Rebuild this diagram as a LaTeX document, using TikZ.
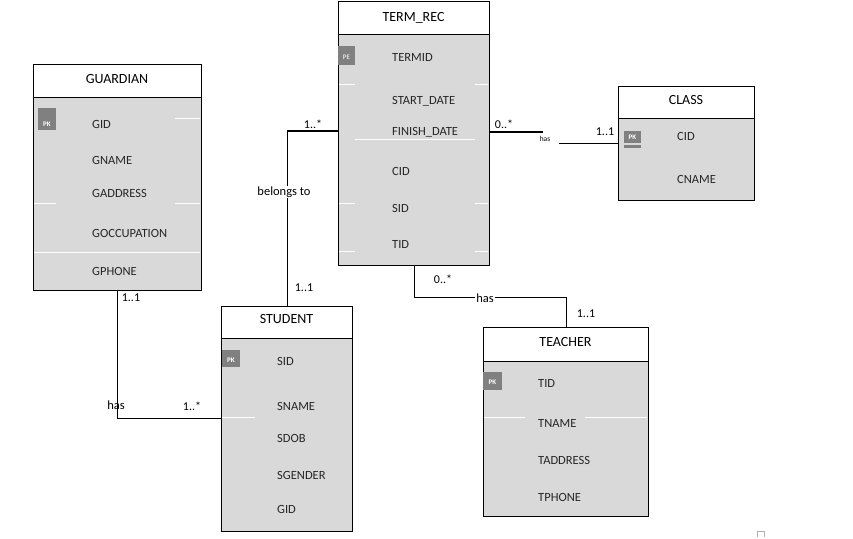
\documentclass[tikz,border=0pt]{standalone}
\usepackage{fontspec}
\setmainfont{Carlito}
\begin{document}
\begin{tikzpicture}[x=1pt,y=-1pt,
  entity/.style={draw=black,line width=1pt,fill=boxgray,anchor=north west,inner sep=0pt},
  hdr/.style={fill=white,draw=black,line width=1pt,anchor=north west,inner sep=0pt},
  title/.style={font=\fontsize{14}{16}\selectfont,inner sep=0pt},
  field/.style={font=\fontsize{12.5}{14}\selectfont,anchor=west,inner sep=0pt,text=black!85},
  pk/.style={fill=pkgray,anchor=north west,inner sep=0pt},
  pktext/.style={font=\fontsize{7}{8}\selectfont\bfseries,text=white,inner sep=0pt},
  sep/.style={draw=white,line width=1pt},
  conn/.style={draw=black,line width=0.9pt},
  thickconn/.style={draw=black,line width=2.8pt},
  card/.style={font=\fontsize{12}{14}\selectfont,inner sep=1pt},
  rel/.style={font=\fontsize{12.5}{14}\selectfont,fill=white,inner sep=1pt}]
\definecolor{boxgray}{HTML}{D9D9D9}
\definecolor{pkgray}{HTML}{808080}
\path[use as bounding box,fill=white] (0,0) rectangle (853,538);

% GUARDIAN
\node[entity,minimum width=168pt,minimum height=226pt] (guardian) at (33,64) {};
\node[hdr,minimum width=168pt,minimum height=33pt] (guardianh) at (33,64) {};
\node[title] (guardiant) at (117,79) {GUARDIAN};
\node[pk,minimum width=18pt,minimum height=22pt] (gpk) at (38,108) {};
\node[pktext] (gpkt) at (47,124) {PK};
\draw[sep] (175,118) -- (200,118);
\draw[sep] (34,203) -- (56,203);
\draw[sep] (175,203) -- (200,203);
\draw[sep] (34,252) -- (200,252);
\node[field] (g1) at (92,124) {GID};
\node[field] (g2) at (92,160) {GNAME};
\node[field] (g3) at (92,193) {GADDRESS};
\node[field] (g4) at (92,233) {GOCCUPATION};
\node[field] (g5) at (92,271) {GPHONE};

% TERM_REC
\node[entity,minimum width=151pt,minimum height=264pt] (termrec) at (338,1) {};
\node[hdr,minimum width=151pt,minimum height=33pt] (termrech) at (338,1) {};
\node[title] (termrect) at (413.5,18) {TERM\_REC};
\node[pk,minimum width=17pt,minimum height=19pt] (tpk) at (338,46) {};
\node[pktext,text=white!75!gray] (tpkt) at (346.5,57) {PE};
\draw[sep] (339,84) -- (355,84);
\draw[sep] (475,84) -- (488,84);
\draw[sep] (355,139) -- (475,139);
\draw[sep] (339,203) -- (355,203);
\draw[sep] (475,203) -- (488,203);
\draw[sep] (339,251) -- (355,251);
\draw[sep] (475,251) -- (488,251);
\node[field] (t1) at (392,57) {TERMID};
\node[field] (t2) at (392,101) {START\_DATE};
\node[field] (t3) at (392,132) {FINISH\_DATE};
\node[field] (t4) at (392,171) {CID};
\node[field] (t5) at (392,208) {SID};
\node[field] (t6) at (392,244) {TID};

% CLASS
\node[entity,minimum width=136pt,minimum height=114pt] (class) at (618,86) {};
\node[hdr,minimum width=136pt,minimum height=32pt] (classh) at (618,86) {};
\node[title] (classt) at (686,100) {CLASS};
\node[pk,minimum width=17pt,minimum height=12pt] (cpk) at (624,131) {};
\node[pktext] (cpkt) at (632.5,137) {PK};
\fill[pkgray] (624,145) rectangle (641,148);
\node[field] (c1) at (677,136) {CID};
\node[field] (c2) at (677,179) {CNAME};

% STUDENT
\node[entity,minimum width=131pt,minimum height=225pt] (student) at (221,306) {};
\node[hdr,minimum width=131pt,minimum height=32pt] (studenth) at (221,306) {};
\node[title] (studentt) at (286.5,319) {STUDENT};
\node[pk,minimum width=18pt,minimum height=17pt] (spk) at (222,350) {};
\node[pktext] (spkt) at (231,360) {PK};
\draw[sep] (222,417) -- (255,417);
\node[field] (s1) at (277,361) {SID};
\node[field] (s2) at (277,406) {SNAME};
\node[field] (s3) at (277,438) {SDOB};
\node[field] (s4) at (277,475) {SGENDER};
\node[field] (s5) at (277,509) {GID};

% TEACHER
\node[entity,minimum width=165pt,minimum height=189pt] (teacher) at (483,327) {};
\node[hdr,minimum width=165pt,minimum height=34pt] (teacherh) at (483,327) {};
\node[title] (teachert) at (565.5,342) {TEACHER};
\node[pk,minimum width=19pt,minimum height=18pt] (tepk) at (483,372) {};
\node[pktext] (tepkt) at (492.5,382) {PK};
\draw[sep] (484,417) -- (525,417);
\draw[sep] (585,417) -- (647,417);
\node[field] (te1) at (538,383) {TID};
\node[field] (te2) at (538,423) {TNAME};
\node[field] (te3) at (538,460) {TADDRESS};
\node[field] (te4) at (538,497) {TPHONE};

% GUARDIAN -- STUDENT
\draw[conn] (guardian.south) |- (student.west |- 0,418);
\node[card] (l1) at (131,298) {1..1};
\node[font=\fontsize{12.5}{14}\selectfont,inner sep=1pt] (l2) at (116,405) {has};
\node[card] (l3) at (192,406) {1..*};

% STUDENT -- TERM_REC
\draw[conn] (student.north) -- (student.north |- 0,131);
\draw[thickconn] (student.north |- 0,131) -- (termrec.west |- 0,131);
\node[rel] (l4) at (284,192) {belongs to};
\node[card] (l5) at (313,124) {1..*};
\node[card] (l6) at (304,288) {1..1};

% TERM_REC -- CLASS
\coordinate (ca) at (543,132);
\coordinate (cb) at (559,143);
\draw[thickconn] (termrec.east |- 0,132) -- (ca);
\draw[conn] (cb) -- (class.west |- 0,143);
\node[font=\fontsize{7.5}{8}\selectfont,inner sep=0pt] (l7) at (545,139) {has};
\node[card] (l8) at (504,124) {0..*};
\node[card] (l9) at (605,132) {1..1};

% TERM_REC -- TEACHER
\draw[conn] (termrec.south) |- (teacher.north |- 0,297) -- (teacher.north);
\node[rel] (l10) at (485,298) {has};
\node[card] (l11) at (443,279) {0..*};
\node[card] (l12) at (586,314) {1..1};

% small mark
\draw[gray!60,line width=0.6pt] (757,537) -- (757,531) -- (764,531) -- (764,537);
\end{tikzpicture}
\end{document}
